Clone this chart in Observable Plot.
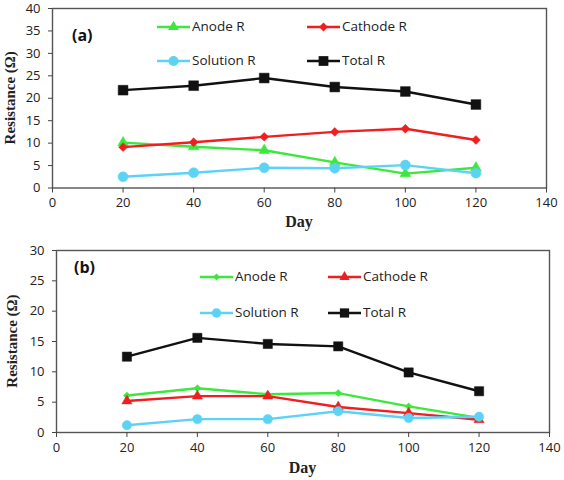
<!DOCTYPE html>
<html><head><meta charset="utf-8">
<script src="https://cdn.jsdelivr.net/npm/d3@7"></script>
<script src="https://cdn.jsdelivr.net/npm/@observablehq/plot@0.6"></script>
<style>body{margin:0;background:#fff;} #chart svg{display:block;}</style>
</head><body><div id="chart"></div>
<script>
const days = [20, 40, 60, 80, 100, 120];
const xTicks = [0, 20, 40, 60, 80, 100, 120, 140];
const aYTicks = [0, 5, 10, 15, 20, 25, 30, 35, 40];
const bYTicks = [0, 5, 10, 15, 20, 25, 30];
const seriesNames = ["Anode R", "Cathode R", "Solution R", "Total R"];
const seriesColors = ["#3ce83c", "#f01e1e", "#5cd3f5", "#111111"];
const aAnode = [10.1, 9.2, 8.4, 5.7, 3.2, 4.5];
const aCathode = [9.1, 10.2, 11.4, 12.5, 13.2, 10.7];
const aSolution = [2.5, 3.4, 4.5, 4.4, 5.1, 3.3];
const aTotal = [21.8, 22.8, 24.5, 22.5, 21.5, 18.6];
const bAnode = [6.1, 7.3, 6.3, 6.5, 4.3, 2.4];
const bCathode = [5.2, 6.0, 6.0, 4.2, 3.2, 2.1];
const bSolution = [1.2, 2.2, 2.2, 3.5, 2.4, 2.6];
const bTotal = [12.5, 15.6, 14.6, 14.2, 9.9, 6.8];

const symbolMap = {circle: d3.symbolCircle, square: d3.symbolSquare, triangle: d3.symbolTriangle, diamond2: d3.symbolDiamond2};

function panel(cfg) {
  const W = 564, H = 240;
  const marks = [];
  for (const s of cfg.series) {
    const rows = days.map((d, i) => ({day: d, value: s.values[i]}));
    marks.push(Plot.line(rows, {x: "day", y: "value", stroke: s.color, strokeWidth: 2.4}));
    marks.push(Plot.dot(rows, {x: "day", y: "value", fill: s.color, stroke: s.color, strokeWidth: 0.5, symbol: s.symbol, r: s.r}));
  }
  marks.push(Plot.frame({stroke: "#555", strokeWidth: 1.4}));
  marks.push(Plot.axisX({ticks: xTicks, tickSize: 5, tickPadding: 5, fontSize: 13, label: null, stroke: "#444"}));
  marks.push(Plot.axisY({ticks: cfg.yTicks, tickSize: 4, tickPadding: 8, fontSize: 13, label: null, stroke: "#444"}));
  const svg = Plot.plot({
    width: W, height: H,
    marginLeft: cfg.ml, marginRight: cfg.mr, marginTop: cfg.mt, marginBottom: cfg.mb,
    style: {fontFamily: "Open Sans", color: "#222", background: "#fff", overflow: "visible"},
    x: {domain: [0, 140]},
    y: {domain: cfg.yDomain},
    marks
  });
  const g = d3.select(svg).append("g");
  const plotLeft = cfg.ml, plotRight = W - cfg.mr, plotTop = cfg.mt, plotBottom = H - cfg.mb;
  // axis titles
  g.append("text").attr("x", (plotLeft + plotRight) / 2).attr("y", cfg.dayY)
    .attr("text-anchor", "middle").attr("dominant-baseline", "middle")
    .attr("font-family", "Liberation Serif").attr("font-weight", "bold").attr("font-size", 16)
    .attr("fill", "#222").text("Day");
  g.append("text").attr("transform", `translate(${cfg.yLabelX},${(plotTop + plotBottom) / 2}) rotate(-90)`)
    .attr("text-anchor", "middle").attr("dominant-baseline", "middle")
    .attr("font-family", "Liberation Serif").attr("font-weight", "bold").attr("font-size", 15)
    .attr("fill", "#222").text("Resistance (Ω)");
  // panel tag
  g.append("text").attr("x", cfg.tag[1]).attr("y", cfg.tag[2])
    .attr("text-anchor", "start").attr("dominant-baseline", "middle")
    .attr("font-family", "Open Sans").attr("font-weight", "bold").attr("font-size", 16)
    .attr("fill", "#111").text(cfg.tag[0]);
  // legend
  cfg.series.forEach((s, i) => {
    const [x0, y] = cfg.legend[i];
    g.append("line").attr("x1", x0).attr("x2", x0 + 33).attr("y1", y).attr("y2", y)
      .attr("stroke", s.color).attr("stroke-width", 2.6);
    g.append("path").attr("transform", `translate(${x0 + 16.5},${y})`)
      .attr("d", d3.symbol(symbolMap[s.symbol], Math.PI * s.r * s.r)())
      .attr("fill", s.color);
    g.append("text").attr("x", x0 + 35).attr("y", y)
      .attr("text-anchor", "start").attr("dominant-baseline", "middle")
      .attr("font-family", "Open Sans").attr("font-size", 13.5).attr("fill", "#222").text(s.name);
  });
  return svg;
}

const chart = document.getElementById("chart");
chart.append(panel({
  ml: 52, mr: 18, mt: 8, mb: 52.5, yDomain: [0, 40], yTicks: aYTicks,
  dayY: 223, yLabelX: 12, tag: ["(a)", 72, 37],
  series: [
    {name: seriesNames[0], values: aAnode, color: seriesColors[0], symbol: "triangle", r: 4.0},
    {name: seriesNames[1], values: aCathode, color: seriesColors[1], symbol: "diamond2", r: 4.0},
    {name: seriesNames[2], values: aSolution, color: seriesColors[2], symbol: "circle", r: 5.0},
    {name: seriesNames[3], values: aTotal, color: seriesColors[3], symbol: "square", r: 5.5}
  ],
  legend: [[157, 27], [307, 27], [157, 61], [307, 61]]
}));
chart.append(panel({
  ml: 56, mr: 15, mt: 10, mb: 48, yDomain: [0, 30], yTicks: bYTicks,
  dayY: 229, yLabelX: 14, tag: ["(b)", 74, 29],
  series: [
    {name: seriesNames[0], values: bAnode, color: seriesColors[0], symbol: "diamond2", r: 3.2},
    {name: seriesNames[1], values: bCathode, color: seriesColors[1], symbol: "triangle", r: 3.8},
    {name: seriesNames[2], values: bSolution, color: seriesColors[2], symbol: "circle", r: 4.7},
    {name: seriesNames[3], values: bTotal, color: seriesColors[3], symbol: "square", r: 5.2}
  ],
  legend: [[200, 37], [328, 37], [200, 73], [328, 73]]
}));
</script>
</body></html>
